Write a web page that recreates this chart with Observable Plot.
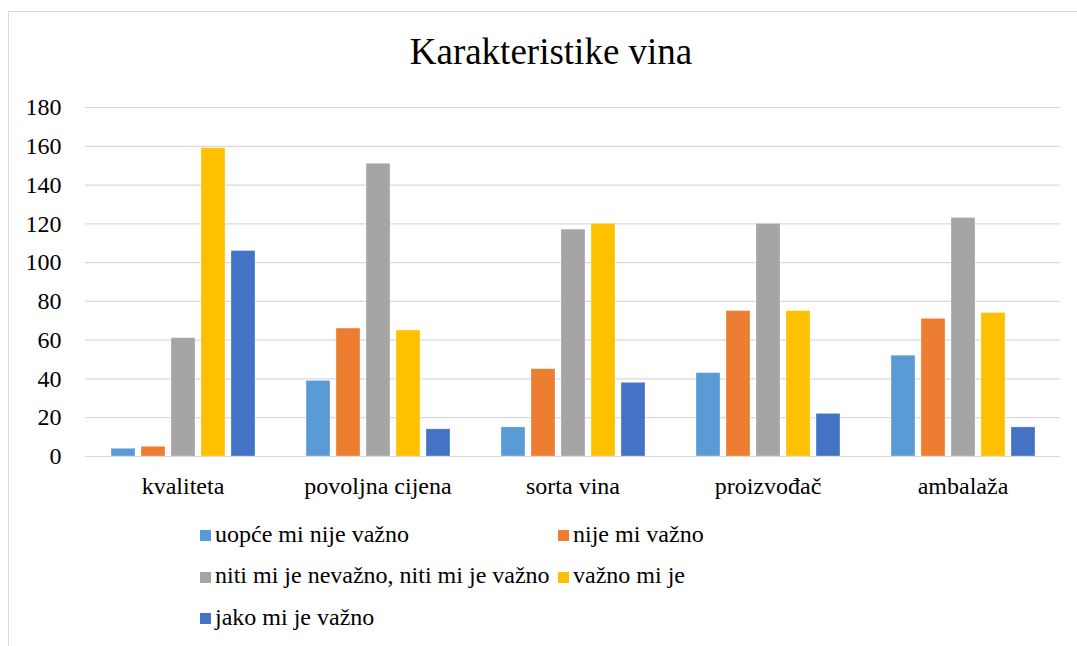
<!DOCTYPE html>
<html>
<head>
<meta charset="utf-8">
<script src="https://cdn.jsdelivr.net/npm/d3@7"></script>
<script src="https://cdn.jsdelivr.net/npm/@observablehq/plot@0.6"></script>
<style>
  html, body { margin: 0; padding: 0; background: #fff; }
  #wrap { position: relative; width: 1077px; height: 646px; overflow: hidden; background: #fff; font-family: "Liberation Serif", "Times New Roman", serif; color: #000; }
  #frame { position: absolute; left: 8px; top: 11px; width: 1100px; height: 700px; border: 1px solid #d9d9d9; box-sizing: border-box; }
  #title { position: absolute; left: 551px; top: 33px; transform: translateX(-50%); font-size: 37px; line-height: 37px; white-space: nowrap; }
  #chart { position: absolute; left: 0; top: 0; }
  #legend { position: absolute; left: 200px; top: 521.5px; display: grid; grid-template-columns: 358px auto; grid-auto-rows: 41.7px; font-size: 24px; line-height: 24px; }
  .item { display: flex; align-items: flex-start; white-space: nowrap; }
  .sw { width: 11px; height: 11px; margin-right: 4px; margin-top: 8.5px; flex: none; }
</style>
</head>
<body>
<div id="wrap">
  <div id="frame"></div>
  <div id="chart"></div>
  <div id="title"></div>
  <div id="legend"></div>
</div>
<script>
const title = "Karakteristike vina";
const categories = ["kvaliteta", "povoljna cijena", "sorta vina", "proizvođač", "ambalaža"];
const seriesNames = ["uopće mi nije važno", "nije mi važno", "niti mi je nevažno, niti mi je važno", "važno mi je", "jako mi je važno"];
const seriesColors = ["#5B9BD5", "#ED7D31", "#A5A5A5", "#FFC000", "#4472C4"];
const uopceMiNijeVazno = [4, 39, 15, 43, 52];
const nijeMiVazno = [5, 66, 45, 75, 71];
const nitiNitiVazno = [61, 151, 117, 120, 123];
const vaznoMiJe = [159, 65, 120, 75, 74];
const jakoMiJeVazno = [106, 14, 38, 22, 15];
const yTicks = [0, 20, 40, 60, 80, 100, 120, 140, 160, 180];

const seriesValues = [uopceMiNijeVazno, nijeMiVazno, nitiNitiVazno, vaznoMiJe, jakoMiJeVazno];
const data = [];
categories.forEach((c, i) => {
  seriesNames.forEach((s, j) => data.push({ category: c, series: s, value: seriesValues[j][i] }));
});

document.getElementById("title").textContent = title;

const chart = Plot.plot({
  width: 1077,
  height: 510,
  marginLeft: 83,
  marginRight: 15,
  marginTop: 107,
  marginBottom: 54,
  style: { fontFamily: "'Liberation Serif', 'Times New Roman', serif", fontSize: "24px", color: "#000", background: "transparent", overflow: "visible" },
  fx: { domain: categories, padding: 0, label: null, axis: "bottom", tickSize: 0, tickPadding: 20 },
  x: { domain: seriesNames, paddingInner: 0.2, paddingOuter: 0.84, axis: null },
  y: { domain: [0, 180], ticks: yTicks, label: null },
  color: { domain: seriesNames, range: seriesColors },
  marks: [
    Plot.gridY(yTicks, { stroke: "#d9d9d9", strokeOpacity: 1, strokeWidth: 1.2 }),
    Plot.axisY(yTicks, { tickSize: 0, tickPadding: 24, label: null, fontSize: 24 }),
    Plot.barY(data, { fx: "category", x: "series", y: "value", fill: "series", stroke: "#ffffff", strokeOpacity: 0.5, strokeWidth: 0.6 })
  ]
});
document.getElementById("chart").appendChild(chart);

const legend = document.getElementById("legend");
seriesNames.forEach((s, j) => {
  const item = document.createElement("div");
  item.className = "item";
  const sw = document.createElement("span");
  sw.className = "sw";
  sw.style.background = seriesColors[j];
  const t = document.createElement("span");
  t.textContent = s;
  item.appendChild(sw);
  item.appendChild(t);
  legend.appendChild(item);
});
</script>
</body>
</html>
